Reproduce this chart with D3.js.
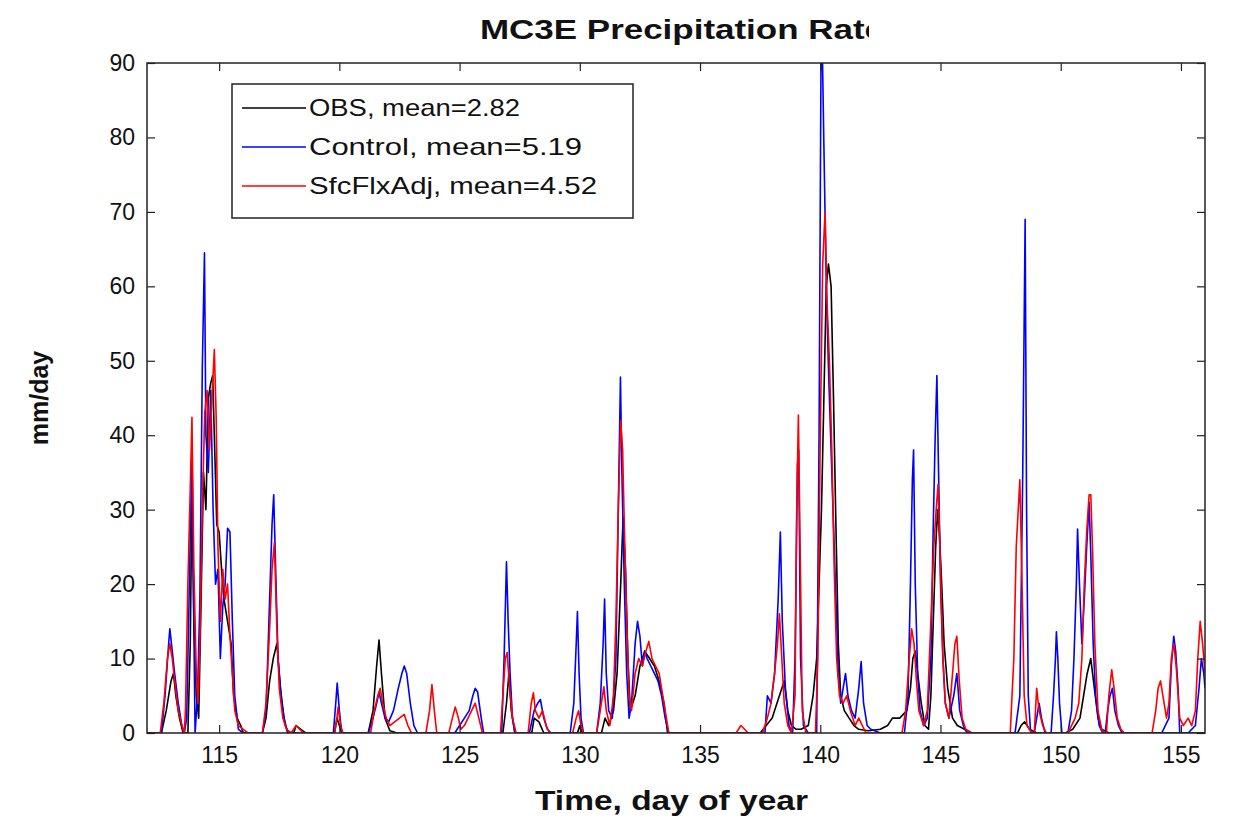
<!DOCTYPE html>
<html>
<head>
<meta charset="utf-8">
<script src="https://d3js.org/d3.v7.min.js"></script>
<style>
  body { margin: 0; background: #fff; }
  text { font-family: "Liberation Sans", Arial, sans-serif; fill: #111; }
  .tick-label { font-size: 23px; }
  .legend-text { font-size: 24px; }
</style>
</head>
<body>
<svg id="chart" width="1233" height="821"></svg>
<script>
// day of year, precipitation rate (mm/day) -- key points
var obs = [
  [112.0,0],[112.6,0],[112.8,3],[113.0,7],[113.1,8],[113.2,5],[113.35,2],[113.5,0],
  [113.7,0],[113.8,12],[113.87,33],[113.95,15],[114.05,5],[114.15,2],[114.25,18],[114.35,35],
  [114.45,30],[114.55,45],[114.65,47],[114.73,48],[114.8,40],[114.9,28],[115.0,27],[115.1,22],
  [115.2,18],[115.3,16],[115.4,14],[115.5,12],[115.6,5],[115.75,2],[115.9,1],[116.0,0],
  [116.8,0],[116.95,2],[117.1,7],[117.25,10],[117.4,12],[117.55,6],[117.7,2],[117.85,0],
  [118.1,0],[118.2,1],[118.4,0.5],[118.6,0],
  [119.8,0],[119.9,2],[120.0,1],[120.1,0],
  [121.2,0],[121.4,3],[121.55,9],[121.65,12.5],[121.75,8],[121.9,2],[122.1,0.3],[122.4,0],
  [126.8,0],[126.95,4],[127.05,8],[127.15,3],[127.3,0],
  [128.0,0],[128.1,2],[128.3,1.5],[128.5,0],
  [129.9,0],[130.0,1],[130.1,0],
  [130.9,0],[131.05,2],[131.2,1],[131.4,3],[131.55,8],[131.7,20],[131.8,29],[131.9,22],
  [132.0,10],[132.1,3],[132.3,5],[132.5,9],[132.7,11],[132.9,10],[133.1,9],[133.3,7],
  [133.5,4],[133.65,0],
  [137.5,0],[138.0,2],[138.3,5],[138.5,7],[138.65,3],[138.8,1],[139.0,0.5],[139.2,0.5],
  [139.5,1],[139.7,5],[139.85,10],[139.95,20],[140.05,30],[140.15,45],[140.25,60],[140.34,63],
  [140.45,60],[140.55,45],[140.65,28],[140.75,12],[140.85,5],[141.0,3],[141.2,2],[141.4,1],
  [141.6,0.5],[142.0,0.3],[142.5,0.5],[142.8,1],[143.0,2],[143.3,2],[143.6,3],[143.75,6],
  [143.85,10],[143.95,11],[144.05,8],[144.2,4],[144.35,1],[144.5,0.5],[144.6,5],[144.7,15],
  [144.8,25],[144.88,30],[144.95,27],[145.05,20],[145.15,12],[145.3,6],[145.5,2],[145.7,1],
  [146.0,0.5],[146.3,0],
  [148.2,0],[148.35,1],[148.5,1.5],[148.7,0.5],[149.0,0],
  [150.2,0],[150.5,0.5],[150.8,2],[150.95,5],[151.1,8],[151.25,10],[151.4,6],[151.55,2],
  [151.7,0.5],[152.0,0],[156.0,0]
];

var control = [
  [112.0,0],[112.6,0],[112.75,5],[112.9,12],[112.95,14],[113.05,11],[113.15,8],[113.3,4],
  [113.45,1],[113.55,0],
  [113.65,2],[113.74,16.5],[113.82,30],[113.87,38],[113.95,14],[114.0,0],[114.1,5],[114.2,18],
  [114.3,49],[114.39,64.5],[114.45,40],[114.55,35],[114.65,46],[114.75,30],[114.85,20],
  [114.95,22],[115.05,10],[115.15,17],[115.25,20],[115.35,27.5],[115.45,27],[115.55,15],
  [115.65,5],[115.8,0.5],[116.0,0],
  [116.8,0],[116.95,3],[117.1,18],[117.2,28],[117.27,32],[117.35,22],[117.45,10],[117.6,4],
  [117.75,1],[117.9,0],
  [119.75,0],[119.85,4],[119.91,6.7],[120.0,3],[120.1,0],
  [121.2,0],[121.4,2],[121.55,4],[121.65,5.5],[121.75,4],[121.9,2],[122.05,1.5],[122.25,3],
  [122.45,6],[122.6,8],[122.7,9],[122.8,8],[122.95,4],[123.1,1],[123.25,0],
  [124.8,0],[125.0,1],[125.2,2],[125.4,3],[125.55,5],[125.65,6],[125.75,5.5],[125.9,2],[126.0,0],
  [126.75,0],[126.85,10],[126.95,23],[127.02,15],[127.1,8],[127.2,2],[127.3,0],
  [127.9,0],[128.1,3],[128.25,4],[128.36,4.5],[128.5,2],[128.65,0.5],[128.8,0],
  [129.6,0],[129.75,4],[129.85,12],[129.9,16.3],[129.97,8],[130.05,2],[130.15,0],
  [130.7,0],[130.85,4],[130.97,12],[131.03,18],[131.1,8],[131.2,3],[131.35,2],[131.5,10],
  [131.6,30],[131.69,47.8],[131.75,35],[131.85,20],[131.95,8],[132.05,2],[132.15,4],[132.3,12],
  [132.4,15],[132.5,13],[132.6,9],[132.7,11],[132.8,10],[132.95,9],[133.1,8],[133.25,7],
  [133.4,5],[133.55,2],[133.7,0],
  [137.7,0],[137.8,5],[137.95,4],[138.1,8],[138.25,18],[138.34,27],[138.42,15],[138.55,6],
  [138.7,1],[138.85,0],[138.95,10],[139.05,36],[139.1,38],[139.18,10],[139.3,1],[139.5,0],
  [139.85,0],[139.95,40],[140.03,90],[140.07,95],[140.15,79],[140.25,60],[140.35,48],
  [140.45,38],[140.55,28],[140.65,18],[140.75,8],[140.85,4],[140.95,6],[141.05,8],[141.15,5],
  [141.3,3],[141.45,2],[141.6,6],[141.7,9.6],[141.8,4],[141.95,1],[142.1,0.5],[142.5,0],
  [143.5,0],[143.65,5],[143.75,20],[143.83,34],[143.88,38],[143.95,20],[144.05,8],[144.15,3],
  [144.3,1],[144.45,2],[144.6,10],[144.7,28],[144.78,40],[144.85,48],[144.92,35],[145.0,20],
  [145.1,10],[145.2,4],[145.35,2],[145.55,5],[145.68,8],[145.8,3],[145.95,1],[146.1,0],
  [148.1,0],[148.3,5],[148.42,35],[148.47,52],[148.52,69],[148.58,30],[148.65,5],[148.75,0],
  [148.9,0],[149.0,2],[149.1,4],[149.2,2],[149.35,0],
  [149.6,0],[149.7,5],[149.78,10],[149.82,13.6],[149.88,10],[149.95,4],[150.05,0],
  [150.3,0],[150.45,3],[150.55,10],[150.65,20],[150.7,27.4],[150.78,20],[150.88,12],
  [150.98,18],[151.08,25],[151.18,31],[151.25,24],[151.35,12],[151.45,5],[151.6,1],[151.75,0],
  [151.85,0],[151.95,3],[152.05,5],[152.15,6],[152.25,3],[152.4,1],[152.55,0],
  [154.2,0],[154.5,2],[154.6,9],[154.7,13],[154.78,11],[154.88,6],[154.95,0],
  [155.3,0],[155.6,1],[155.75,6],[155.85,10],[155.95,8],[156.0,6]
];

var sfcflxadj = [
  [112.0,0],[112.55,0],[112.7,4],[112.85,10],[112.95,12],[113.05,10],[113.15,7],[113.3,3],
  [113.45,1],[113.55,0],
  [113.6,3],[113.7,20],[113.8,33],[113.87,42.4],[113.95,22],[114.05,8],[114.12,4],[114.2,12],
  [114.3,30],[114.4,43],[114.5,46],[114.6,38],[114.7,45],[114.8,51.5],[114.88,42],[114.95,25],
  [115.05,15],[115.15,22],[115.25,18],[115.35,20],[115.45,13],[115.55,8],[115.65,3],[115.8,1],
  [116.0,0.5],[116.2,0],
  [116.8,0],[116.95,4],[117.1,14],[117.2,22],[117.3,25.6],[117.4,14],[117.5,6],[117.65,2],
  [117.8,0.5],[118.0,0],[118.2,1],[118.35,0.5],[118.5,0],
  [119.8,0],[119.9,2],[119.95,3.5],[120.05,1],[120.15,0],
  [121.3,0],[121.45,3],[121.6,5],[121.7,6],[121.8,4],[121.95,2],[122.1,1],[122.3,1.5],
  [122.5,2],[122.7,2.5],[122.85,1],[123.0,0],
  [123.6,0],[123.75,3],[123.85,6.5],[123.95,3],[124.05,0],
  [124.55,0],[124.7,2],[124.82,3.5],[124.95,2],[125.05,0.5],[125.2,1],[125.35,2],[125.5,3],
  [125.65,4],[125.8,2],[125.95,0],
  [126.7,0],[126.8,5],[126.9,10],[126.98,10.8],[127.08,6],[127.2,2],[127.35,0],
  [127.85,0],[127.98,4],[128.07,5.4],[128.15,3],[128.3,2],[128.45,3],[128.6,1],[128.75,0],
  [129.7,0],[129.85,2],[129.95,3],[130.05,1],[130.15,0],
  [130.7,0],[130.85,3],[131.0,6.2],[131.1,3],[131.25,1],[131.4,5],[131.5,15],[131.6,30],
  [131.7,42],[131.78,38],[131.85,28],[131.95,15],[132.05,5],[132.15,3],[132.3,8],[132.45,10],
  [132.6,9],[132.75,11],[132.87,12.3],[133.0,10],[133.15,9],[133.3,8],[133.45,5],[133.6,2],
  [133.7,0],
  [136.5,0],[136.7,1],[136.85,0.5],[137.0,0],
  [137.6,0],[137.8,2],[137.95,4],[138.1,8],[138.22,12],[138.3,16],[138.4,10],[138.5,4],
  [138.65,1],[138.8,0],[138.95,5],[139.02,30],[139.09,42.7],[139.15,28],[139.25,3],[139.4,0],
  [139.8,0],[139.9,10],[140.0,40],[140.1,63],[140.2,70],[140.28,58],[140.38,50],[140.48,38],
  [140.58,22],[140.68,10],[140.8,5],[140.95,4],[141.1,5],[141.25,3],[141.45,1],[141.6,2],
  [141.75,1],[141.9,0],
  [143.4,0],[143.55,3],[143.7,10],[143.8,14],[143.9,12],[144.0,7],[144.1,3],[144.3,1],
  [144.45,3],[144.6,15],[144.72,25],[144.82,30],[144.9,33.4],[145.0,22],[145.1,10],[145.2,4],
  [145.35,2],[145.5,8],[145.6,12],[145.68,13],[145.78,7],[145.9,2],[146.05,0.5],[146.3,0],
  [147.9,0],[148.05,10],[148.15,25],[148.25,31],[148.3,34],[148.38,22],[148.48,5],[148.6,1],
  [148.8,0],
  [148.9,0],[149.0,6],[149.1,3],[149.25,1],[149.4,0],
  [150.3,0],[150.45,1],[150.6,2],[150.75,4],[150.88,10],[150.98,20],[151.08,27],[151.18,32],
  [151.25,32],[151.32,25],[151.42,12],[151.55,3],[151.7,0.5],[151.85,0],
  [151.9,0],[152.0,5],[152.12,8.5],[152.22,6],[152.35,2],[152.5,0.5],[152.65,0],
  [153.8,0],[153.95,3],[154.05,6],[154.15,7],[154.25,5],[154.4,2],[154.5,4],[154.6,10],
  [154.7,12],[154.8,9],[154.95,2],[155.1,1],[155.3,2],[155.45,1],[155.6,3],[155.7,10],
  [155.8,15],[155.9,12],[156.0,8]
];

var seriesNames = ["OBS, mean=2.82", "Control, mean=5.19", "SfcFlxAdj, mean=4.52"];
var seriesColors = ["#000000", "#0000ff", "#ff0000"];
var xTicks = [115, 120, 125, 130, 135, 140, 145, 150, 155];
var yTicks = [0, 10, 20, 30, 40, 50, 60, 70, 80, 90];

var plotLeft = 147, plotRight = 1205, plotTop = 63, plotBottom = 733;
// legend label widths as they appear in the original figure
var legendTextWidths = [211, 273, 288];
var svg = d3.select("#chart");

var x = d3.scaleLinear().domain([112, 156]).range([plotLeft, plotRight]);
var y = d3.scaleLinear().domain([0, 90]).range([plotBottom, plotTop]);

var defs = svg.append("defs");
defs.append("clipPath").attr("id", "plot-clip")
  .append("rect")
  .attr("x", plotLeft).attr("y", plotTop)
  .attr("width", plotRight - plotLeft).attr("height", plotBottom - plotTop);

// series lines, drawn in the same order as the legend
var line = d3.line()
  .x(function(d) { return x(d[0]); })
  .y(function(d) { return y(d[1]); });

var lines = svg.append("g").attr("clip-path", "url(#plot-clip)");
[obs, control, sfcflxadj].forEach(function(data, i) {
  lines.append("path")
    .attr("d", line(data))
    .attr("fill", "none")
    .attr("stroke", seriesColors[i])
    .attr("stroke-width", 1.6)
    .attr("stroke-linejoin", "round");
});

// axes: ticks point inward on all four sides
function styleAxis(g) {
  g.select(".domain").remove();
  g.selectAll(".tick line").attr("stroke", "#222").attr("stroke-width", 1.2);
  g.selectAll(".tick text").attr("class", "tick-label").attr("fill", "#111");
}

svg.append("g")
  .attr("transform", "translate(0," + plotBottom + ")")
  .call(d3.axisBottom(x).tickValues(xTicks).tickSize(-8).tickPadding(14))
  .call(styleAxis);

svg.append("g")
  .attr("transform", "translate(0," + plotTop + ")")
  .call(d3.axisTop(x).tickValues(xTicks).tickSize(-8).tickFormat(""))
  .call(styleAxis);

svg.append("g")
  .attr("transform", "translate(" + plotLeft + ",0)")
  .call(d3.axisLeft(y).tickValues(yTicks).tickSize(-8).tickPadding(12))
  .call(styleAxis);

svg.append("g")
  .attr("transform", "translate(" + plotRight + ",0)")
  .call(d3.axisRight(y).tickValues(yTicks).tickSize(-8).tickFormat(""))
  .call(styleAxis);

svg.append("rect")
  .attr("x", plotLeft).attr("y", plotTop)
  .attr("width", plotRight - plotLeft).attr("height", plotBottom - plotTop)
  .attr("fill", "none").attr("stroke", "#222").attr("stroke-width", 1.5);

// legend
var legend = svg.append("g").attr("transform", "translate(232,84)");
legend.append("rect")
  .attr("width", 401).attr("height", 134)
  .attr("fill", "#fff").attr("stroke", "#222").attr("stroke-width", 1.5);
seriesNames.forEach(function(name, i) {
  var ly = 24 + i * 39;
  legend.append("line")
    .attr("x1", 10).attr("x2", 74)
    .attr("y1", ly).attr("y2", ly)
    .attr("stroke", seriesColors[i]).attr("stroke-width", 1.5);
  legend.append("text")
    .attr("class", "legend-text")
    .attr("x", 77).attr("y", ly + 8)
    .attr("textLength", legendTextWidths[i]).attr("lengthAdjust", "spacingAndGlyphs")
    .text(name);
});

// title, cut off on the right as in the original figure
defs.append("clipPath").attr("id", "title-clip")
  .append("rect").attr("x", 0).attr("y", 0).attr("width", 869).attr("height", 60);
svg.append("text")
  .attr("clip-path", "url(#title-clip)")
  .attr("x", 480).attr("y", 39)
  .attr("font-size", 27).attr("font-weight", "bold")
  .attr("textLength", 404).attr("lengthAdjust", "spacingAndGlyphs")
  .text("MC3E Precipitation Rate");

svg.append("text")
  .attr("x", 535).attr("y", 810)
  .attr("font-size", 28).attr("font-weight", "bold")
  .attr("textLength", 273).attr("lengthAdjust", "spacingAndGlyphs")
  .text("Time, day of year");

svg.append("text")
  .attr("transform", "translate(48," + (plotTop + plotBottom) / 2 + ") rotate(-90)")
  .attr("text-anchor", "middle")
  .attr("font-size", 25).attr("font-weight", "bold")
  .text("mm/day");
</script>
</body>
</html>
